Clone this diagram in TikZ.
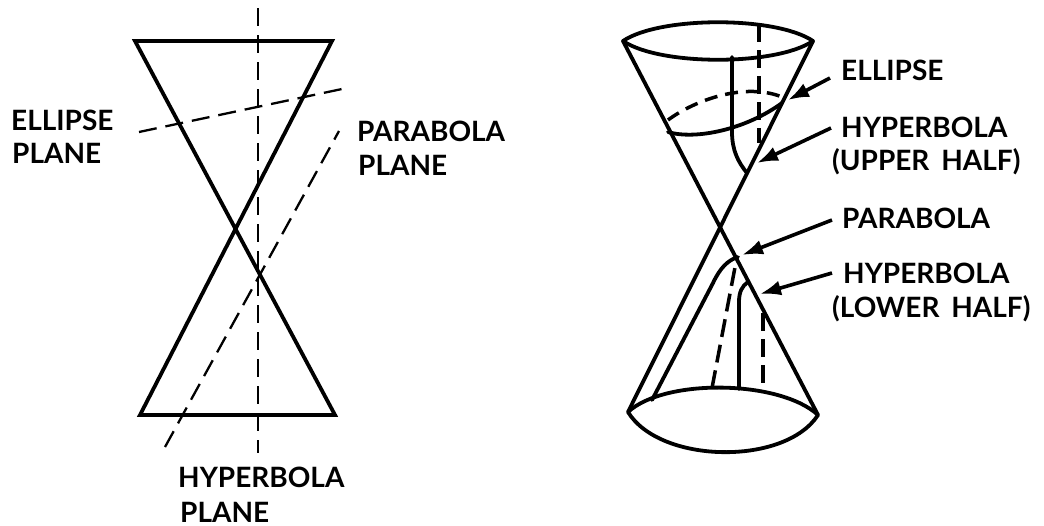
\documentclass[tikz,border=0pt]{standalone}
\usepackage{fontspec}
\setmainfont{Lato}[BoldFont=* Bold]
\usetikzlibrary{arrows.meta}
\tikzset{
  heavy/.style={line width=3.8pt,line join=miter,line cap=round},
  cone/.style={line width=3.8pt,line cap=round,line join=round},
  plane/.style={line width=2.3pt,dash pattern=on 18pt off 9pt},
  hidden/.style={line width=3.5pt,dash pattern=on 18pt off 8pt},
  lbl/.style={anchor=base west,inner sep=0pt,font=\fontsize{28}{32}\selectfont\bfseries},
  pointer/.style={line width=3.6pt,-{Latex[length=21pt,width=15pt]}}
}
\begin{document}
\begin{tikzpicture}[x=1pt,y=-1pt]
\useasboundingbox (0,0) rectangle (1044,525);
% left figure
\coordinate (tl) at (135,41); \coordinate (tr) at (332,41);
\coordinate (bl) at (140,415); \coordinate (br) at (335,415);
\draw[heavy] (tr) -- (tl) -- (br) -- (bl) -- cycle;
\coordinate (a1) at (258,8); \coordinate (a2) at (258,453);
\coordinate (e1) at (139,132); \coordinate (e2) at (342,89);
\coordinate (p1) at (165,447); \coordinate (p2) at (339,131);
\draw[plane,line width=2.8pt] (a1) -- (a2);
\draw[plane] (e1) -- (e2);
\draw[plane] (p1) -- (p2);
\node[lbl] (ellp) at (11,130) {ELLIPSE};
\node[lbl] (ellq) at (12,163) {PLANE};
\node[lbl] (parp) at (357,141) {PARABOLA};
\node[lbl] (parq) at (358,175) {PLANE};
\node[lbl] (hypp) at (178,487) {HYPERBOLA};
\node[lbl] (hypq) at (180,522) {PLANE};
% right figure
\coordinate (ul) at (623,41); \coordinate (ur) at (813,41);
\coordinate (ll) at (628,412); \coordinate (lr) at (818,415);
\draw[cone] (ul) -- (lr);
\draw[cone] (ur) -- (ll);
\draw[cone] (ul) .. controls (660,16) and (776,16) .. (ur)
  .. controls (776,66) and (660,66) .. cycle;
\draw[cone] (ll) .. controls (665,378) and (780,380) .. (lr)
  .. controls (785,466) and (660,464) .. cycle;
% ellipse section
\draw[cone] (668,132) .. controls (695,140) and (745,130) .. (782,103);
\draw[hidden,dash pattern=on 13pt off 8pt] (668,120) .. controls (695,100) and (745,82) .. (782,97);
% upper hyperbola
\draw[cone] (732,57) -- (732,132) .. controls (732,150) and (738,162) .. (747,173);
\draw[hidden] (759,24) -- (759,143);
% parabola
\draw[cone] (652,400) -- (713,283) .. controls (720,268) and (728,260) .. (738,257);
\draw[hidden] (712,388) -- (736,262);
% lower hyperbola
\draw[cone] (739,389) -- (739,302) .. controls (739,292) and (742,286) .. (748,282);
\draw[hidden] (763,313) -- (763,392);
% labels and pointers
\node[lbl] (l1) at (841,80) {ELLIPSE};
\node[lbl] (l2) at (841,137) {HYPERBOLA};
\node[lbl] (l3) at (832,170) {(UPPER\hspace{0.18em} HALF)};
\node[lbl] (l4) at (842,228) {PARABOLA};
\node[lbl] (l5) at (843,283) {HYPERBOLA};
\node[lbl] (l6) at (832,317) {(LOWER\hspace{0.18em} HALF)};
\coordinate (s1) at (830,78); \coordinate (t1) at (788,100);
\coordinate (s2) at (831,128); \coordinate (t2) at (757,163);
\coordinate (s4) at (832,220); \coordinate (t4) at (742,255);
\coordinate (s5) at (832,273); \coordinate (t5) at (760,294);
\draw[pointer] (s1) -- (t1);
\draw[pointer] (s2) -- (t2);
\draw[pointer] (s4) -- (t4);
\draw[pointer] (s5) -- (t5);
\end{tikzpicture}
\end{document}
